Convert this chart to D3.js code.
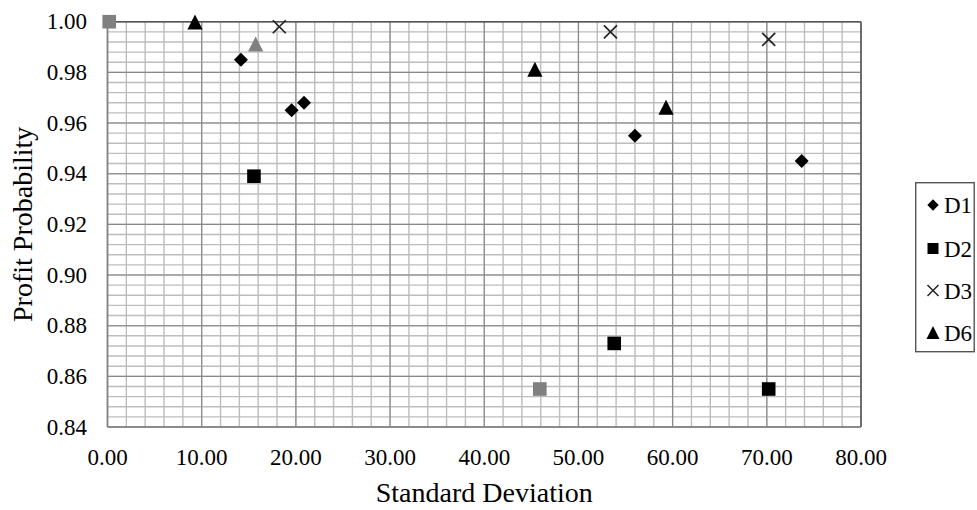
<!DOCTYPE html>
<html>
<head>
<meta charset="utf-8">
<script src="https://d3js.org/d3.v7.min.js"></script>
<style>
  body { margin: 0; background: #fff; }
</style>
</head>
<body>
<div id="chart"></div>
<script>
// series values: [standard deviation, profit probability]
var d1 = [[14.17, 0.985], [19.55, 0.965], [20.86, 0.968], [56.0, 0.955], [73.7, 0.945]];
var d2 = [[15.55, 0.939], [53.8, 0.873], [70.2, 0.855]];
var d3s = [[18.24, 0.998], [53.4, 0.996], [70.2, 0.993]];
var d6 = [[9.29, 0.9997], [45.38, 0.981], [59.3, 0.966]];
// grey points with no legend entry
var greySquares = [[0.18, 1.0], [45.9, 0.855]];
var greyTriangles = [[15.73, 0.991]];

var legendNames = ["D1", "D2", "D3", "D6"];
var xTicks = [0, 10, 20, 30, 40, 50, 60, 70, 80];
var yTicks = [0.84, 0.86, 0.88, 0.90, 0.92, 0.94, 0.96, 0.98, 1.00];

var width = 977, height = 510;
var margin = {top: 21.7, left: 107.5, right: 116, bottom: 83};
var serif = "'Liberation Serif', 'Times New Roman', 'DejaVu Serif', serif";

var svg = d3.select("#chart").append("svg")
    .attr("width", width)
    .attr("height", height)
    .attr("font-family", serif);

var x = d3.scaleLinear().domain([0, 80]).range([margin.left, width - margin.right]);
var y = d3.scaleLinear().domain([0.84, 1.0]).range([height - margin.bottom, margin.top]);

// minor grid
var xMinor = d3.range(0, 80.001, 2);
var yMinor = d3.range(0, 41).map(function(i) { return 0.84 + i * 0.004; });

svg.append("g").selectAll("line").data(xMinor).enter().append("line")
    .attr("x1", function(d) { return x(d); }).attr("x2", function(d) { return x(d); })
    .attr("y1", y(0.84)).attr("y2", y(1.0))
    .attr("stroke", "#bdbdbd").attr("stroke-width", 1.4);
svg.append("g").selectAll("line").data(yMinor).enter().append("line")
    .attr("y1", function(d) { return y(d); }).attr("y2", function(d) { return y(d); })
    .attr("x1", x(0)).attr("x2", x(80))
    .attr("stroke", "#bdbdbd").attr("stroke-width", 1.4);

// major grid
svg.append("g").selectAll("line").data(xTicks).enter().append("line")
    .attr("x1", function(d) { return x(d); }).attr("x2", function(d) { return x(d); })
    .attr("y1", y(0.84)).attr("y2", y(1.0))
    .attr("stroke", "#888").attr("stroke-width", 1.1);
svg.append("g").selectAll("line").data(yTicks).enter().append("line")
    .attr("y1", function(d) { return y(d); }).attr("y2", function(d) { return y(d); })
    .attr("x1", x(0)).attr("x2", x(80))
    .attr("stroke", "#888").attr("stroke-width", 1.1);

// frame
svg.append("line").attr("x1", x(0)).attr("x2", x(80)).attr("y1", y(1)).attr("y2", y(1))
    .attr("stroke", "#555").attr("stroke-width", 1.4);
svg.append("line").attr("x1", x(80)).attr("x2", x(80)).attr("y1", y(1)).attr("y2", y(0.84))
    .attr("stroke", "#555").attr("stroke-width", 1.4);
svg.append("line").attr("x1", x(0)).attr("x2", x(0)).attr("y1", y(1)).attr("y2", y(0.84))
    .attr("stroke", "#808080").attr("stroke-width", 1.6);
svg.append("line").attr("x1", x(0)).attr("x2", x(80)).attr("y1", y(0.84)).attr("y2", y(0.84))
    .attr("stroke", "#808080").attr("stroke-width", 1.6);

// tick labels
svg.append("g").selectAll("text").data(xTicks).enter().append("text")
    .attr("x", function(d) { return x(d); })
    .attr("y", 465)
    .attr("text-anchor", "middle")
    .style("font-family", serif)
    .style("font-size", "23px")
    .text(function(d) { return d.toFixed(2); });

svg.append("g").selectAll("text").data(yTicks).enter().append("text")
    .attr("x", 87)
    .attr("y", function(d) { return y(d); })
    .attr("dy", "0.33em")
    .attr("text-anchor", "end")
    .style("font-family", serif)
    .style("font-size", "23px")
    .text(function(d) { return d.toFixed(2); });

// axis titles
svg.append("text")
    .attr("x", (x(0) + x(80)) / 2)
    .attr("y", 502)
    .attr("text-anchor", "middle")
    .style("font-family", serif)
    .style("font-size", "28px")
    .text("Standard Deviation");

svg.append("text")
    .attr("transform", "translate(32," + (y(0.84) + y(1)) / 2 + ") rotate(-90)")
    .attr("text-anchor", "middle")
    .style("font-family", serif)
    .style("font-size", "28px")
    .text("Profit Probability");

// marker shapes
var diamond = d3.symbol().type(d3.symbolSquare).size(98);
var square = d3.symbol().type(d3.symbolSquare).size(185);
var triangle = "M0,-8 L7.6,7 L-7.6,7 Z";
var cross = "M-6.5,-6.5 L6.5,6.5 M-6.5,6.5 L6.5,-6.5";

function drawPoints(data, path, fill, stroke, rot) {
  svg.append("g").selectAll("path").data(data).enter().append("path")
      .attr("d", path)
      .attr("transform", function(d) {
        return "translate(" + x(d[0]) + "," + y(d[1]) + ")" + (rot ? " rotate(45)" : "");
      })
      .attr("fill", fill)
      .attr("stroke", stroke)
      .attr("stroke-width", stroke == "none" ? 0 : 1.7);
}

drawPoints(greySquares, square(), "#808080", "none");
drawPoints(greyTriangles, triangle, "#808080", "none");
drawPoints(d1, diamond(), "#000", "none", true);
drawPoints(d2, square(), "#000", "none");
drawPoints(d3s, cross, "none", "#222");
drawPoints(d6, triangle, "#000", "none");

// legend
var legend = svg.append("g");
legend.append("rect")
    .attr("x", 915.7).attr("y", 182.7)
    .attr("width", 58.5).attr("height", 169)
    .attr("fill", "#fff").attr("stroke", "#555").attr("stroke-width", 1.4);

var legendY = [205, 248.5, 290.5, 333];
var legendShapes = [
  {d: d3.symbol().type(d3.symbolSquare).size(64)(), rot: true, fill: "#000", stroke: "none"},
  {d: d3.symbol().type(d3.symbolSquare).size(121)(), rot: false, fill: "#000", stroke: "none"},
  {d: "M-5.5,-5.5 L5.5,5.5 M-5.5,5.5 L5.5,-5.5", rot: false, fill: "none", stroke: "#222"},
  {d: "M0,-7 L6.5,6 L-6.5,6 Z", rot: false, fill: "#000", stroke: "none"}
];

legendNames.forEach(function(name, i) {
  var s = legendShapes[i];
  legend.append("path")
      .attr("d", s.d)
      .attr("transform", "translate(933," + legendY[i] + ")" + (s.rot ? " rotate(45)" : ""))
      .attr("fill", s.fill)
      .attr("stroke", s.stroke)
      .attr("stroke-width", s.stroke == "none" ? 0 : 1.5);
  legend.append("text")
      .attr("x", 944)
      .attr("y", legendY[i])
      .attr("dy", "0.35em")
      .style("font-family", serif)
      .style("font-size", "23px")
      .text(name);
});
</script>
</body>
</html>
